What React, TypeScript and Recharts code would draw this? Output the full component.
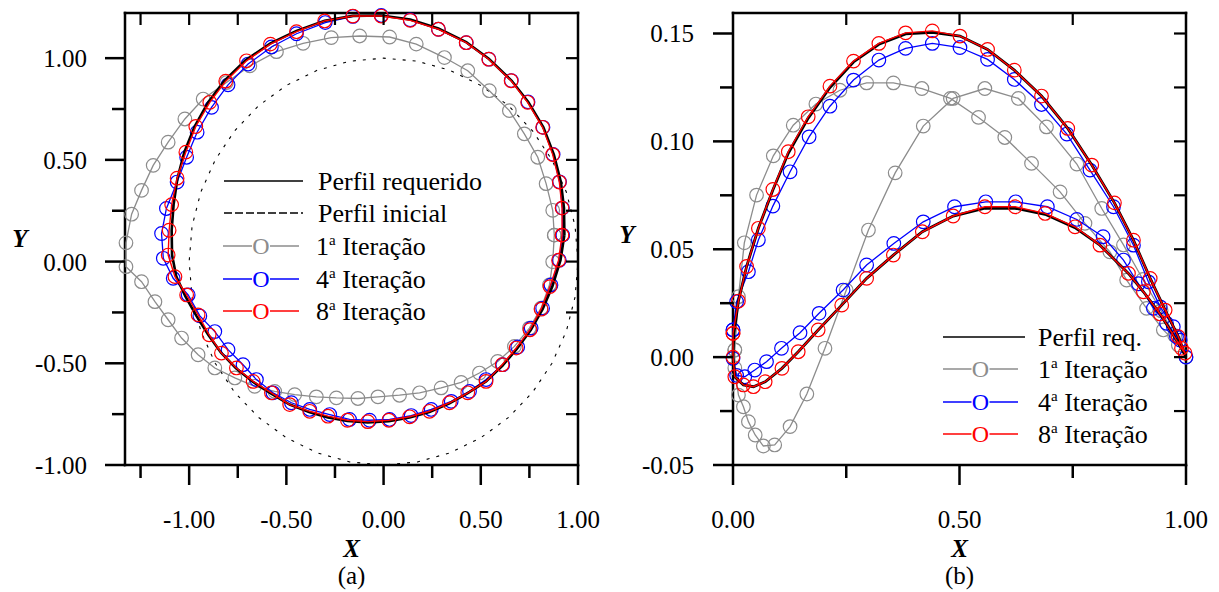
import React from 'react';
import { ScatterChart, Scatter, XAxis, YAxis, Legend, Label } from 'recharts';

type Pt = [number, number];

const SERIF = "'Liberation Serif', 'Times New Roman', serif";
const GRAY = '#8c8c8c';
const BLUE = '#0000ff';
const RED = '#ff0000';

// ---- panel (a) ----
const domAX: Pt = [-1.33, 1.0];
const domAY: Pt = [-1.0, 1.222];
const ticksAX = [-1.25, -1, -0.75, -0.5, -0.25, 0, 0.25, 0.5, 0.75, 1];
const ticksAY = [-1, -0.75, -0.5, -0.25, 0, 0.25, 0.5, 0.75, 1];

const perfilInicialA: Pt[] = [
  [1.0, 0.0], [0.985, 0.174], [0.94, 0.342], [0.866, 0.5], [0.766, 0.643], [0.643, 0.766],
  [0.5, 0.866], [0.342, 0.94], [0.174, 0.985], [0.0, 1.0], [-0.174, 0.985], [-0.342, 0.94],
  [-0.5, 0.866], [-0.643, 0.766], [-0.766, 0.643], [-0.866, 0.5], [-0.94, 0.342], [-0.985, 0.174],
  [-1.0, 0.0], [-0.985, -0.174], [-0.94, -0.342], [-0.866, -0.5], [-0.766, -0.643], [-0.643, -0.766],
  [-0.5, -0.866], [-0.342, -0.94], [-0.174, -0.985], [0.0, -1.0], [0.174, -0.985], [0.342, -0.94],
  [0.5, -0.866], [0.643, -0.766], [0.766, -0.643], [0.866, -0.5], [0.94, -0.342], [0.985, -0.174],
  [1.0, 0.0],
];

const perfilReqA: Pt[] = [
  [0.93, 0.13], [0.928, 0.263], [0.912, 0.391], [0.876, 0.526], [0.822, 0.66], [0.745, 0.783],
  [0.658, 0.89], [0.541, 0.997], [0.425, 1.079], [0.282, 1.146], [0.137, 1.19], [-0.012, 1.21],
  [-0.158, 1.208], [-0.303, 1.184], [-0.448, 1.134], [-0.582, 1.073], [-0.71, 0.99], [-0.818, 0.89],
  [-0.902, 0.783], [-0.972, 0.664], [-1.025, 0.538], [-1.06, 0.41], [-1.08, 0.28], [-1.09, 0.154],
  [-1.088, 0.032], [-1.066, -0.074], [-1.02, -0.17], [-0.962, -0.268], [-0.902, -0.36], [-0.836, -0.448],
  [-0.759, -0.524], [-0.673, -0.591], [-0.578, -0.649], [-0.483, -0.703], [-0.38, -0.741], [-0.286, -0.766],
  [-0.186, -0.784], [-0.081, -0.791], [0.027, -0.785], [0.134, -0.767], [0.236, -0.739], [0.339, -0.697],
  [0.433, -0.647], [0.527, -0.589], [0.612, -0.511], [0.686, -0.428], [0.757, -0.336], [0.818, -0.234],
  [0.868, -0.123], [0.91, 0.007], [0.93, 0.13],
];

const iter1A: Pt[] = [
  [0.878, 0.13], [0.87, 0.252], [0.836, 0.383], [0.793, 0.513], [0.724, 0.628], [0.647, 0.742],
  [0.544, 0.84], [0.433, 0.938], [0.313, 1.003], [0.168, 1.069], [0.031, 1.104], [-0.123, 1.109],
  [-0.269, 1.101], [-0.414, 1.073], [-0.551, 1.032], [-0.688, 0.962], [-0.808, 0.88], [-0.928, 0.799],
  [-1.022, 0.701], [-1.108, 0.587], [-1.185, 0.473], [-1.245, 0.35], [-1.296, 0.233], [-1.325, 0.092],
  [-1.325, -0.025], [-1.245, -0.099], [-1.176, -0.197], [-1.108, -0.286], [-1.039, -0.376], [-0.954, -0.458],
  [-0.868, -0.523], [-0.765, -0.572], [-0.663, -0.613], [-0.56, -0.638], [-0.457, -0.654], [-0.346, -0.665],
  [-0.243, -0.67], [-0.132, -0.673], [-0.029, -0.665], [0.082, -0.657], [0.185, -0.645], [0.296, -0.621],
  [0.399, -0.594], [0.493, -0.548], [0.587, -0.491], [0.673, -0.417], [0.75, -0.327], [0.81, -0.229],
  [0.853, -0.115], [0.87, -0.001], [0.878, 0.13],
];

const iter4A: Pt[] = [
  [0.921, 0.13], [0.92, 0.263], [0.905, 0.392], [0.872, 0.527], [0.82, 0.66], [0.743, 0.785],
  [0.657, 0.89], [0.542, 0.995], [0.425, 1.076], [0.282, 1.142], [0.137, 1.188], [-0.012, 1.21],
  [-0.158, 1.205], [-0.3, 1.175], [-0.448, 1.12], [-0.577, 1.055], [-0.697, 0.971], [-0.8, 0.869],
  [-0.885, 0.758], [-0.959, 0.636], [-1.013, 0.513], [-1.062, 0.391], [-1.117, 0.261], [-1.142, 0.138],
  [-1.133, 0.016], [-1.082, -0.082], [-1.005, -0.164], [-0.945, -0.267], [-0.868, -0.344], [-0.8, -0.433],
  [-0.723, -0.507], [-0.654, -0.58], [-0.569, -0.645], [-0.474, -0.694], [-0.38, -0.727], [-0.277, -0.752],
  [-0.175, -0.776], [-0.072, -0.78], [0.031, -0.776], [0.142, -0.757], [0.245, -0.727], [0.348, -0.687],
  [0.442, -0.638], [0.527, -0.58], [0.613, -0.507], [0.69, -0.42], [0.759, -0.327], [0.818, -0.229],
  [0.861, -0.115], [0.904, 0.007], [0.921, 0.13],
];

const iter8A: Pt[] = [
  [0.918, 0.13], [0.918, 0.263], [0.904, 0.391], [0.87, 0.526], [0.818, 0.66], [0.741, 0.783],
  [0.656, 0.889], [0.541, 0.995], [0.425, 1.076], [0.282, 1.142], [0.137, 1.186], [-0.012, 1.207],
  [-0.158, 1.207], [-0.303, 1.183], [-0.448, 1.13], [-0.582, 1.069], [-0.705, 0.987], [-0.812, 0.887],
  [-0.894, 0.783], [-0.966, 0.664], [-1.017, 0.538], [-1.062, 0.41], [-1.09, 0.28], [-1.103, 0.154],
  [-1.108, 0.032], [-1.073, -0.074], [-1.013, -0.164], [-0.954, -0.262], [-0.897, -0.36], [-0.834, -0.45],
  [-0.757, -0.523], [-0.671, -0.589], [-0.577, -0.645], [-0.483, -0.703], [-0.38, -0.736], [-0.286, -0.76],
  [-0.186, -0.78], [-0.081, -0.787], [0.027, -0.78], [0.134, -0.763], [0.236, -0.736], [0.339, -0.694],
  [0.433, -0.645], [0.527, -0.589], [0.61, -0.507], [0.682, -0.425], [0.753, -0.335], [0.81, -0.234],
  [0.856, -0.123], [0.9, 0.007], [0.918, 0.13],
];

// ---- panel (b) ----
const domBX: Pt = [0, 1];
const domBY: Pt = [-0.05, 0.1595];
const ticksBX = [0, 0.25, 0.5, 0.75, 1];
const ticksBY = [-0.05, -0.025, 0, 0.025, 0.05, 0.075, 0.1, 0.125, 0.15];

const perfilReqB: Pt[] = [
  [1.0, 0.0], [0.983, 0.0095], [0.954, 0.0218], [0.921, 0.0365], [0.884, 0.0542], [0.842, 0.0715],
  [0.792, 0.089], [0.739, 0.106], [0.681, 0.121], [0.621, 0.133], [0.562, 0.1426], [0.501, 0.1488],
  [0.44, 0.1505], [0.381, 0.1498], [0.322, 0.145], [0.266, 0.1368], [0.214, 0.125], [0.166, 0.1108],
  [0.122, 0.0945], [0.088, 0.0775], [0.056, 0.0597], [0.03, 0.042], [0.012, 0.026], [0.002, 0.011],
  [0.0, 0.0], [0.004, -0.0091], [0.023, -0.0129], [0.045, -0.0137], [0.071, -0.0114], [0.108, -0.0052],
  [0.144, 0.0025], [0.188, 0.0126], [0.24, 0.0241], [0.295, 0.0365], [0.354, 0.0473], [0.418, 0.0581],
  [0.486, 0.0654], [0.556, 0.069], [0.623, 0.069], [0.689, 0.0662], [0.755, 0.06], [0.81, 0.0519],
  [0.873, 0.0388], [0.906, 0.0303], [0.943, 0.02], [0.99, 0.0041], [1.0, 0.0],
];

const iter1B: Pt[] = [
  [0.004, 0.0033], [0.012, 0.028], [0.025, 0.053], [0.052, 0.0751], [0.089, 0.0933], [0.133, 0.1075],
  [0.183, 0.1173], [0.236, 0.1237], [0.295, 0.1271], [0.354, 0.1271], [0.417, 0.1245], [0.48, 0.1199],
  [0.542, 0.1111], [0.6, 0.1018], [0.659, 0.0898], [0.722, 0.0766], [0.777, 0.062], [0.832, 0.0488],
  [0.869, 0.0357], [0.913, 0.0226], [0.95, 0.0126], [0.983, 0.0056], [1.0, 0.0],
  [0.975, 0.01], [0.945, 0.0215], [0.905, 0.036], [0.862, 0.052], [0.814, 0.0689], [0.759, 0.0895],
  [0.692, 0.1067], [0.63, 0.1199], [0.556, 0.1245], [0.486, 0.1199], [0.42, 0.1071], [0.358, 0.0854],
  [0.299, 0.0589], [0.25, 0.031], [0.203, 0.0041], [0.163, -0.0171], [0.126, -0.0322], [0.092, -0.0407],
  [0.067, -0.0412], [0.049, -0.0361], [0.034, -0.0299], [0.023, -0.023], [0.012, -0.0176], [0.004, -0.005],
  [0.004, 0.0033],
];

const iter4B: Pt[] = [
  [0.0, 0.0126], [0.008, 0.0257], [0.034, 0.0396], [0.056, 0.0543], [0.088, 0.07], [0.126, 0.0859],
  [0.168, 0.1021], [0.214, 0.1163], [0.266, 0.1284], [0.322, 0.1377], [0.381, 0.1431], [0.44, 0.1454],
  [0.501, 0.1435], [0.562, 0.138], [0.621, 0.1287], [0.681, 0.1171], [0.737, 0.1034], [0.788, 0.0867],
  [0.84, 0.0697], [0.884, 0.0519], [0.917, 0.0349], [0.943, 0.0233], [0.972, 0.0141], [0.987, 0.0079],
  [1.0, 0.0], [0.979, 0.0095], [0.957, 0.0157], [0.928, 0.0226], [0.895, 0.034], [0.862, 0.045],
  [0.817, 0.0558], [0.759, 0.0638], [0.694, 0.0697], [0.624, 0.072], [0.558, 0.072], [0.489, 0.0697],
  [0.42, 0.0627], [0.355, 0.0527], [0.295, 0.0427], [0.243, 0.0311], [0.19, 0.0203], [0.148, 0.0113],
  [0.107, 0.0041], [0.074, -0.0021], [0.048, -0.006], [0.026, -0.0091], [0.008, -0.0085], [0.0, -0.0006],
  [0.0, 0.0126],
];

const iter8B: Pt[] = [
  [0.0, 0.011], [0.012, 0.026], [0.03, 0.042], [0.056, 0.0597], [0.088, 0.0777], [0.122, 0.0952],
  [0.166, 0.1114], [0.214, 0.1256], [0.266, 0.1372], [0.322, 0.1454], [0.381, 0.1503], [0.44, 0.1512],
  [0.501, 0.1488], [0.562, 0.1426], [0.621, 0.133], [0.681, 0.121], [0.739, 0.106], [0.792, 0.089],
  [0.842, 0.0715], [0.884, 0.0542], [0.921, 0.0365], [0.954, 0.0218], [0.983, 0.0095], [0.998, 0.0018],
  [0.99, 0.0041], [0.943, 0.02], [0.906, 0.0303], [0.873, 0.0388], [0.81, 0.0519], [0.755, 0.0604],
  [0.689, 0.0666], [0.623, 0.0697], [0.556, 0.0697], [0.486, 0.0654], [0.418, 0.0581], [0.354, 0.0473],
  [0.295, 0.0365], [0.24, 0.0241], [0.188, 0.0126], [0.144, 0.0025], [0.108, -0.0052], [0.071, -0.0114],
  [0.045, -0.0137], [0.023, -0.0129], [0.004, -0.0091], [0.0, 0.0], [0.0, 0.011],
];

const toXY = (pts: Pt[]) => pts.map(([x, y]) => ({ x, y }));

// plot boxes (page px): both panels are 453 x 452
const BOX_A = { left: 125, top: 13, w: 453, h: 452 };
const BOX_B = { left: 733, top: 13, w: 453, h: 452 };

const AXIS = { stroke: '#000', strokeWidth: 2.5, strokeLinecap: 'square' as const };
const isMult = (v: number, step: number) => Math.abs(v / step - Math.round(v / step)) < 1e-6;

const bottomTick = (step: number) => (p: any) => {
  const v = p.payload.value;
  const major = isMult(v, step);
  return (
    <g>
      <line x1={p.x} x2={p.x} y1={p.y} y2={p.y + (major ? 20 : 13)} stroke="#000" strokeWidth={2.5} />
      {major && (
        <text x={p.x} y={p.y + 63} textAnchor="middle" fontFamily={SERIF} fontSize={25} fill="#000">
          {v.toFixed(2)}
        </text>
      )}
    </g>
  );
};

const leftTick = (step: number, gap: number) => (p: any) => {
  const v = p.payload.value;
  const major = isMult(v, step);
  return (
    <g>
      <line x1={p.x - (major ? 20 : 13)} x2={p.x} y1={p.y} y2={p.y} stroke="#000" strokeWidth={2.5} />
      {major && (
        <text x={p.x - gap} y={p.y + 9} textAnchor="end" fontFamily={SERIF} fontSize={25} fill="#000">
          {v.toFixed(2)}
        </text>
      )}
    </g>
  );
};

// inward mirror ticks on the top and right edges of a plot box
const MirrorTicks = ({ box, dx, dy, tx, ty }: { box: typeof BOX_A; dx: Pt; dy: Pt; tx: number[]; ty: number[] }) => {
  const sx = (v: number) => box.left + ((v - dx[0]) / (dx[1] - dx[0])) * box.w;
  const sy = (v: number) => box.top + box.h - ((v - dy[0]) / (dy[1] - dy[0])) * box.h;
  const right = box.left + box.w;
  return (
    <g stroke="#000" strokeWidth={2.2}>
      {tx.map((v) => (
        <line key={`t${v}`} x1={sx(v)} x2={sx(v)} y1={box.top} y2={box.top + 12} />
      ))}
      {ty.map((v) => (
        <line key={`r${v}`} x1={right - 12} x2={right} y1={sy(v)} y2={sy(v)} />
      ))}
    </g>
  );
};

const xTitle = (sub: string) => (props: any) => {
  const vb = props.viewBox ?? { x: 0, y: 465, width: 0, height: 0 };
  const cx = vb.x + vb.width / 2;
  return (
    <g>
      <text x={cx} y={vb.y + 92} textAnchor="middle" fontFamily={SERIF} fontSize={25} fontWeight="bold" fontStyle="italic">X</text>
      <text x={cx} y={vb.y + 119} textAnchor="middle" fontFamily={SERIF} fontSize={25}>{sub}</text>
    </g>
  );
};

const yTitle = (x: number, y: number) => () => (
  <text x={x} y={y} textAnchor="middle" fontFamily={SERIF} fontSize={25} fontWeight="bold" fontStyle="italic">Y</text>
);

const ring = (color: string) => (p: any) => (
  <circle cx={p.cx} cy={p.cy} r={6.8} fill="none" stroke={color} strokeWidth={1.2} />
);
const noMark = () => <g />;

// legend pieces
const IterText = ({ x, y, n }: { x: number; y: number; n: string }) => (
  <text x={x} y={y + 9} fontFamily={SERIF} fontSize={26} fill="#000">
    <tspan>{n}</tspan>
    <tspan dy={-10} fontSize={15}>a</tspan>
    <tspan dy={10}> Iteração</tspan>
  </text>
);

const MarkLine = ({ x1, x2, y, color }: { x1: number; x2: number; y: number; color: string }) => {
  const cx = (x1 + x2) / 2;
  return (
    <g>
      <line x1={x1} x2={cx - 9} y1={y} y2={y} stroke={color} strokeWidth={1.5} />
      <line x1={cx + 9} x2={x2} y1={y} y2={y} stroke={color} strokeWidth={1.5} />
      <text x={cx} y={y + 8} textAnchor="middle" fontFamily={SERIF} fontSize={24} fill={color}>O</text>
    </g>
  );
};

const LegendA = () => (
  <svg width={300} height={175} style={{ overflow: 'visible' }}>
    <line x1={9} x2={88} y1={21} y2={21} stroke="#000" strokeWidth={1.5} />
    <text x={103} y={30} fontFamily={SERIF} fontSize={26}>Perfil requerido</text>
    <line x1={9} x2={88} y1={53} y2={53} stroke="#000" strokeWidth={1.3} strokeDasharray="8 3" />
    <text x={103} y={62} fontFamily={SERIF} fontSize={26}>Perfil inicial</text>
    <MarkLine x1={8} x2={84} y={86} color={GRAY} />
    <IterText x={101} y={86} n="1" />
    <MarkLine x1={8} x2={84} y={119} color={BLUE} />
    <IterText x={101} y={119} n="4" />
    <MarkLine x1={8} x2={84} y={151} color={RED} />
    <IterText x={101} y={151} n="8" />
  </svg>
);

const LegendB = () => (
  <svg width={260} height={145} style={{ overflow: 'visible' }}>
    <line x1={13} x2={95} y1={22} y2={22} stroke="#000" strokeWidth={1.5} />
    <text x={108} y={31} fontFamily={SERIF} fontSize={26}>Perfil req.</text>
    <MarkLine x1={13} x2={88} y={54} color={GRAY} />
    <IterText x={108} y={54} n="1" />
    <MarkLine x1={13} x2={88} y={87} color={BLUE} />
    <IterText x={108} y={87} n="4" />
    <MarkLine x1={13} x2={88} y={119} color={RED} />
    <IterText x={108} y={119} n="8" />
  </svg>
);

const App = () => (
  <div style={{ position: 'absolute', left: 0, top: 0, width: 1219, height: 592, background: '#fff' }}>
    <div style={{ position: 'absolute', left: 0, top: 0 }}>
      <ScatterChart width={600} height={592} margin={{ top: 12, right: 21, bottom: 0, left: 0 }}>
        <XAxis xAxisId="b" dataKey="x" type="number" domain={domAX} ticks={ticksAX} interval={0}
          height={127} tickSize={0} tickMargin={0} tickLine={false} axisLine={AXIS} tick={bottomTick(0.5)}>
          <Label content={xTitle('(a)')} />
        </XAxis>
        <XAxis xAxisId="t" orientation="top" dataKey="x" type="number" domain={domAX}
          ticks={[]} height={1} tickLine={false} tick={false} axisLine={AXIS} />
        <YAxis yAxisId="l" dataKey="y" type="number" domain={domAY} ticks={ticksAY} interval={0}
          width={125} tickSize={0} tickMargin={0} tickLine={false} axisLine={AXIS} tick={leftTick(0.5, 38)}>
          <Label content={yTitle(20, 247)} />
        </YAxis>
        <YAxis yAxisId="r" orientation="right" dataKey="y" type="number" domain={domAY}
          ticks={[]} width={1} tickLine={false} tick={false} axisLine={AXIS} />
        <Scatter xAxisId="t" yAxisId="r" data={[{ x: 0, y: 0 }]} shape={noMark} isAnimationActive={false} />
        <Scatter xAxisId="b" yAxisId="l" name="Perfil inicial" data={toXY(perfilInicialA)} shape={noMark}
          line={{ stroke: '#000', strokeWidth: 1.1, strokeDasharray: '3 7' }} isAnimationActive={false} />
        <Scatter xAxisId="b" yAxisId="l" name="1ª Iteração" data={toXY(iter1A)} shape={ring(GRAY)}
          line={{ stroke: GRAY, strokeWidth: 1.3 }} isAnimationActive={false} />
        <Scatter xAxisId="b" yAxisId="l" name="4ª Iteração" data={toXY(iter4A)} shape={ring(BLUE)}
          line={{ stroke: BLUE, strokeWidth: 1.3 }} isAnimationActive={false} />
        <Scatter xAxisId="b" yAxisId="l" name="Perfil requerido" data={toXY(perfilReqA)} shape={noMark}
          line={{ stroke: '#000', strokeWidth: 2.6 }} isAnimationActive={false} />
        <Scatter xAxisId="b" yAxisId="l" name="8ª Iteração" data={toXY(iter8A)} shape={ring(RED)}
          line={{ stroke: RED, strokeWidth: 1.4 }} isAnimationActive={false} />
        <Legend layout="vertical" align="center" verticalAlign="middle" content={() => <LegendA />}
          wrapperStyle={{ left: 215, top: 160, width: 300, height: 175 }} />
      </ScatterChart>
    </div>
    <div style={{ position: 'absolute', left: 610, top: 0 }}>
      <ScatterChart width={609} height={592} margin={{ top: 12, right: 32, bottom: 0, left: 0 }}>
        <XAxis xAxisId="b" dataKey="x" type="number" domain={domBX} ticks={ticksBX} interval={0}
          height={127} tickSize={0} tickMargin={0} tickLine={false} axisLine={AXIS} tick={bottomTick(0.5)}>
          <Label content={xTitle('(b)')} />
        </XAxis>
        <XAxis xAxisId="t" orientation="top" dataKey="x" type="number" domain={domBX}
          ticks={[]} height={1} tickLine={false} tick={false} axisLine={AXIS} />
        <YAxis yAxisId="l" dataKey="y" type="number" domain={domBY} ticks={ticksBY} interval={0}
          width={123} tickSize={0} tickMargin={0} tickLine={false} axisLine={AXIS} tick={leftTick(0.05, 39)}>
          <Label content={yTitle(17, 243)} />
        </YAxis>
        <YAxis yAxisId="r" orientation="right" dataKey="y" type="number" domain={domBY}
          ticks={[]} width={1} tickLine={false} tick={false} axisLine={AXIS} />
        <Scatter xAxisId="t" yAxisId="r" data={[{ x: 0.5, y: 0 }]} shape={noMark} isAnimationActive={false} />
        <Scatter xAxisId="b" yAxisId="l" name="1ª Iteração" data={toXY(iter1B)} shape={ring(GRAY)}
          line={{ stroke: GRAY, strokeWidth: 1.3 }} isAnimationActive={false} />
        <Scatter xAxisId="b" yAxisId="l" name="4ª Iteração" data={toXY(iter4B)} shape={ring(BLUE)}
          line={{ stroke: BLUE, strokeWidth: 1.3 }} isAnimationActive={false} />
        <Scatter xAxisId="b" yAxisId="l" name="Perfil req." data={toXY(perfilReqB)} shape={noMark}
          line={{ stroke: '#000', strokeWidth: 2.8 }} isAnimationActive={false} />
        <Scatter xAxisId="b" yAxisId="l" name="8ª Iteração" data={toXY(iter8B)} shape={ring(RED)}
          line={{ stroke: RED, strokeWidth: 1.4 }} isAnimationActive={false} />
        <Legend layout="vertical" align="center" verticalAlign="middle" content={() => <LegendB />}
          wrapperStyle={{ left: 320, top: 315, width: 260, height: 145 }} />
      </ScatterChart>
    </div>
    <svg width={1219} height={592} style={{ position: 'absolute', left: 0, top: 0, pointerEvents: 'none' }}>
      <MirrorTicks box={BOX_A} dx={domAX} dy={domAY} tx={ticksAX.slice(0, -1)} ty={ticksAY.slice(1)} />
      <MirrorTicks box={BOX_B} dx={domBX} dy={domBY} tx={ticksBX.slice(1, -1)} ty={ticksBY.slice(1)} />
    </svg>
  </div>
);

export default App;
